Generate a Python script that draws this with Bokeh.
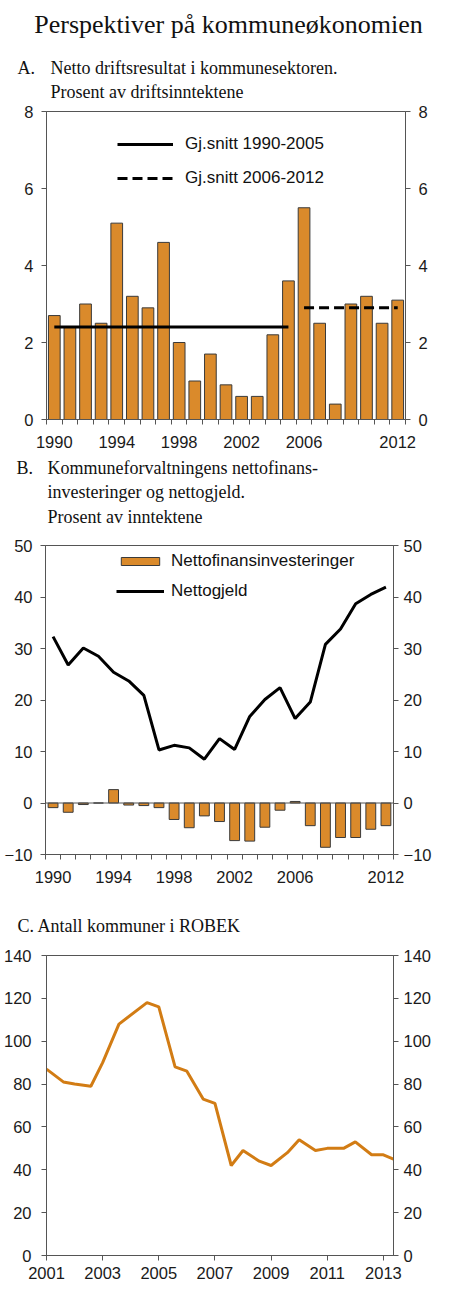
import numpy as np
from bokeh.plotting import figure
from bokeh.layouts import column
from bokeh.models import (ColumnDataSource, LinearAxis, FixedTicker, Range1d,
                          Label, Legend, LegendItem, Span)
from bokeh.embed import file_html
from bokeh.resources import INLINE

# --- data ---
years = list(range(1990, 2013))
driftsresultat = [2.7, 2.4, 3.0, 2.5, 5.1, 3.2, 2.9, 4.6, 2.0, 1.0, 1.7, 0.9,
                  0.6, 0.6, 2.2, 3.6, 5.5, 2.5, 0.4, 3.0, 3.2, 2.5, 3.1]
snitt_1990_2005 = 2.4
snitt_2006_2012 = 2.9

nettofinans = [-0.9, -1.8, -0.3, 0.0, 2.6, -0.4, -0.5, -0.9, -3.2, -4.8, -2.5,
               -3.6, -7.3, -7.4, -4.7, -1.4, 0.3, -4.4, -8.6, -6.7, -6.7, -5.1, -4.4]
nettogjeld = [32.3, 26.8, 30.1, 28.5, 25.4, 23.7, 20.9, 10.3, 11.2, 10.7, 8.5,
              12.5, 10.4, 16.8, 20.1, 22.4, 16.4, 19.6, 30.8, 33.8, 38.7, 40.5, 41.9]

robek_tid = [2001.0, 2001.6, 2002.0, 2002.58, 2003.0, 2003.58, 2004.58, 2005.0,
             2005.58, 2006.0, 2006.58, 2007.0, 2007.58, 2008.0, 2008.58, 2009.0,
             2009.58, 2010.0, 2010.58, 2011.0, 2011.58, 2012.0, 2012.58, 2013.0, 2013.36]
robek_antall = [87, 81, 80, 79, 90, 108, 118, 116, 88, 86, 73, 71, 42, 49, 44, 42,
                48, 54, 49, 50, 50, 53, 47, 47, 45]

year_labels = [1990, 1994, 1998, 2002, 2006, 2012]
robek_labels = [2001, 2003, 2005, 2007, 2009, 2011, 2013]

BAR = "#DA8A2B"
ORANGE = "#D27C14"
GREY = "#555555"
SERIF = "Liberation Serif"
SANS = "Liberation Sans"
FS = "16.5px"
W = 434


def style_axis(ax, standoff=8):
    ax.axis_line_color = GREY
    ax.major_tick_line_color = GREY
    ax.minor_tick_line_color = GREY
    ax.major_tick_in = 0
    ax.major_tick_out = 5
    ax.minor_tick_in = 0
    ax.minor_tick_out = 0
    ax.major_label_text_font = SANS
    ax.major_label_text_font_size = FS
    ax.major_label_text_color = "#1a1a1a"
    ax.major_label_standoff = standoff


def make_fig(height, xr, yr, yticks, borders, standoffs=(8, 8)):
    left, right, top, bottom = borders
    p = figure(width=W, height=height, x_range=xr, y_range=yr,
               output_backend="svg", toolbar_location=None, frame_align=False,
               min_border_left=left, min_border_right=right,
               min_border_top=top, min_border_bottom=bottom)
    p.xgrid.visible = False
    p.ygrid.visible = False
    p.outline_line_color = GREY
    p.yaxis.ticker = FixedTicker(ticks=yticks)
    p.add_layout(LinearAxis(ticker=FixedTicker(ticks=yticks)), "right")
    for ax, s in zip(p.yaxis, standoffs):
        style_axis(ax, s)
    return p


def year_axis(p):
    ax = p.xaxis[0]
    style_axis(ax, standoff=11)
    ax.ticker = FixedTicker(ticks=year_labels,
                            minor_ticks=[y - 0.5 for y in years] + [years[-1] + 0.5])
    ax.major_tick_out = 0
    ax.minor_tick_out = 5


def header(height, lines):
    # a strip without axes that carries the panel headings;
    # each line is (text, x from left, baseline from top, size, align)
    h = figure(width=W, height=height, x_range=Range1d(0, W), y_range=Range1d(0, height),
               output_backend="svg", toolbar_location=None, frame_align=False,
               x_axis_location=None, y_axis_location=None,
               min_border=0, min_border_left=0, min_border_right=0,
               min_border_top=0, min_border_bottom=0)
    h.xgrid.visible = False
    h.ygrid.visible = False
    h.outline_line_color = None
    for text, x, base, size, align in lines:
        h.add_layout(Label(x=x, y=height - base, x_units="screen", y_units="screen",
                           text=text, text_font=SERIF, text_font_size=size,
                           text_align=align, text_baseline="alphabetic",
                           text_color="#111111"))
    return h


def legend(items, loc, gw, gh, lh, standoff, spacing):
    return Legend(items=items, location=loc, glyph_width=gw, glyph_height=gh,
                  label_height=lh, label_standoff=standoff, spacing=spacing,
                  padding=0, margin=0, border_line_alpha=0, background_fill_alpha=0,
                  label_text_font=SANS, label_text_font_size="17px",
                  label_text_color="#111111")


# --- Panel A ---
ha = header(103, [("Perspektiver på kommuneøkonomien", 228, 24, "26px", "center"),
                  ("A.", 17, 67, "18px", "left"),
                  ("Netto driftsresultat i kommunesektoren.", 50, 67, "18px", "left"),
                  ("Prosent av driftsinntektene", 50, 91, "18px", "left")])

pa = make_fig(347, Range1d(years[0] - 0.5, years[-1] + 0.5), Range1d(0, 8),
              [0, 2, 4, 6, 8], (46, 29, 8, 31))
year_axis(pa)
src_a = ColumnDataSource(dict(year=years, val=driftsresultat))
pa.vbar(x="year", top="val", width=0.75, bottom=0, source=src_a,
        fill_color=BAR, line_color="#3a3a3a", line_width=1)
i05 = years.index(2005)
i06 = years.index(2006)
l1 = pa.line([years[0], years[i05]], [snitt_1990_2005] * 2, line_color="black", line_width=3)
l2 = pa.line([years[i06], years[-1]], [snitt_2006_2012] * 2, line_color="black",
             line_width=3, line_dash="10 5")
pa.add_layout(legend([LegendItem(label="Gj.snitt 1990-2005", renderers=[l1]),
                      LegendItem(label="Gj.snitt 2006-2012", renderers=[l2])],
                     (71, 230), 56, 22, 22, 12, 12))

# --- Panel B ---
hb = header(87, [("B.", 16, 17, "18px", "left"),
                 ("Kommuneforvaltningens nettofinans-", 47, 17, "18px", "left"),
                 ("investeringer og nettogjeld.", 47, 41, "18px", "left"),
                 ("Prosent av inntektene", 47, 66, "18px", "left")])

pb = make_fig(348, Range1d(years[0] - 0.5, years[-1] + 0.5), Range1d(-10, 50),
              [-10, 0, 10, 20, 30, 40, 50], (45, 34, 8, 30), standoffs=(8, 5))
year_axis(pb)
pb.add_layout(Span(location=0, dimension="width", line_color=GREY, line_width=1))
src_b = ColumnDataSource(dict(year=years, fin=nettofinans, gjeld=nettogjeld))
rb = pb.vbar(x="year", top="fin", width=0.65, bottom=0, source=src_b,
             fill_color=BAR, line_color="#3a3a3a", line_width=1)
rl = pb.line(x="year", y="gjeld", source=src_b, line_color="black", line_width=3)
pb.add_layout(legend([LegendItem(label="Nettofinansinvesteringer", renderers=[rb]),
                      LegendItem(label="Nettogjeld", renderers=[rl])],
                     (71, 253), 48, 10, 20, 7, 10))

# --- Panel C ---
hc = header(62, [("C. Antall kommuner i ROBEK", 17, 40, "18px", "left")])

pc = figure(width=W, height=338, x_range=Range1d(robek_tid[0], robek_tid[-1]),
            y_range=Range1d(0, 140), output_backend="svg", toolbar_location=None,
            frame_align=False,
            min_border_left=43, min_border_right=38, min_border_top=8, min_border_bottom=30)
pc.xgrid.visible = False
pc.ygrid.visible = False
pc.outline_line_color = GREY
yt = [0, 20, 40, 60, 80, 100, 120, 140]
pc.yaxis.ticker = FixedTicker(ticks=yt)
pc.add_layout(LinearAxis(ticker=FixedTicker(ticks=yt)), "right")
for ax, s in zip(pc.yaxis, (10, 5)):
    style_axis(ax, standoff=s)
pc.xaxis.ticker = FixedTicker(ticks=robek_labels)
style_axis(pc.xaxis[0], standoff=6)
pc.line(robek_tid, robek_antall, line_color=ORANGE, line_width=3)

layout = column(ha, pa, hb, pb, hc, pc, spacing=0)
open("out.html", "w").write(file_html(layout, INLINE))
